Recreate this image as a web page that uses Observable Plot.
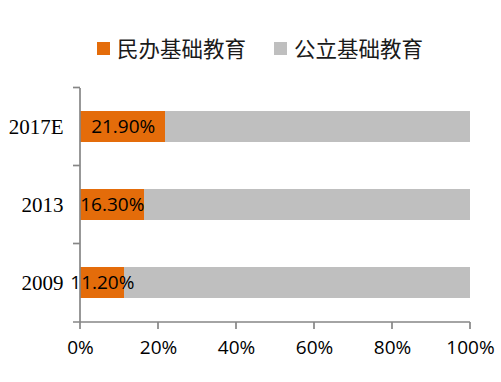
<!DOCTYPE html>
<html>
<head>
<meta charset="utf-8">
<script src="https://cdn.jsdelivr.net/npm/d3@7"></script>
<script src="https://cdn.jsdelivr.net/npm/@observablehq/plot@0.6"></script>
<style>
  html, body { margin: 0; padding: 0; background: #fff; }
  #legend { height: 68px; box-sizing: border-box; padding: 28px 0 0 97px; display: flex;
            font: 21.5px "Noto Sans CJK SC", sans-serif; color: #1a1a1a; line-height: 28px; }
  .item { display: flex; align-items: center; }
  .sw { width: 13px; height: 13px; margin-right: 7px; margin-top: 1px; }
  .item + .item { margin-left: 28px; }
</style>
</head>
<body>
<div id="legend"></div>
<div id="chart"></div>
<script>
const categories = ["2017E", "2013", "2009"];
const series = ["民办基础教育", "公立基础教育"];
const privateShare = [21.9, 16.3, 11.2];
const publicShare = [78.1, 83.7, 88.8];
const privateLabels = ["21.90%", "16.30%", "11.20%"];
const xTicks = [0, 20, 40, 60, 80, 100];
const colors = ["#E46C0A", "#BFBFBF"];
const axisColor = "#868686";

const rows = [];
categories.forEach((c, i) => {
  rows.push({year: c, series: series[0], value: privateShare[i], label: privateLabels[i]});
  rows.push({year: c, series: series[1], value: publicShare[i], label: ""});
});
const privateRows = rows.filter(r => r.series === series[0]);

// legend
const legend = document.getElementById("legend");
series.forEach((s, i) => {
  const it = document.createElement("div");
  it.className = "item";
  const sw = document.createElement("div");
  sw.className = "sw";
  sw.style.background = colors[i];
  const t = document.createElement("span");
  t.textContent = s;
  it.appendChild(sw); it.appendChild(t);
  legend.appendChild(it);
});

function axisLines(...args) {
  const scales = args.find(a => a && typeof a.x === "function" && typeof a.y === "function");
  const dim = args.find(a => a && a.marginLeft !== undefined && a.width !== undefined);
  const x = scales.x, y = scales.y;
  const g = d3.create("svg:g").attr("stroke", axisColor).attr("stroke-width", 1.7).attr("fill", "none");
  const top = dim.marginTop, bottom = dim.height - dim.marginBottom;
  const x0 = x(0);
  const step = y.step(), bw = y.bandwidth();
  g.append("line").attr("x1", x0).attr("x2", x0).attr("y1", top).attr("y2", bottom);
  g.append("line").attr("x1", x0 - 7).attr("x2", x(100)).attr("y1", bottom).attr("y2", bottom);
  categories.forEach(c => {
    const yb = y(c) - (step - bw) / 2;
    g.append("line").attr("x1", x0 - 7).attr("x2", x0).attr("y1", yb).attr("y2", yb);
  });
  xTicks.forEach(t => {
    g.append("line").attr("x1", x(t)).attr("x2", x(t)).attr("y1", bottom).attr("y2", bottom + 7);
  });
  return g.node();
}

const chart = Plot.plot({
  width: 501,
  height: 314,
  marginTop: 20,
  marginBottom: 60,
  marginLeft: 80,
  marginRight: 31,
  style: {fontFamily: "Open Sans, sans-serif", fontSize: "19px", color: "#000", background: "#fff"},
  x: {domain: [0, 100], ticks: xTicks, label: null},
  y: {domain: categories, paddingInner: 0.6, paddingOuter: 0.3, label: null},
  color: {domain: series, range: colors},
  marks: [
    Plot.barX(rows, Plot.stackX({x: "value", y: "year", fill: "series", shapeRendering: "crispEdges"})),
    Plot.text(privateRows, Plot.stackX({x: "value", y: "year", text: "label", fill: "#000", fontSize: 19, fontFamily: "Open Sans"})),
    axisLines,
    Plot.axisX({ticks: xTicks, tickFormat: d => d + "%", tickSize: 0, tickPadding: 18, fontSize: 19, fontFamily: "Open Sans", label: null}),
    Plot.axisY({tickSize: 0, tickPadding: 17, fontSize: 21, fontFamily: "Liberation Serif", label: null})
  ]
});
document.getElementById("chart").appendChild(chart);
</script>
</body>
</html>
